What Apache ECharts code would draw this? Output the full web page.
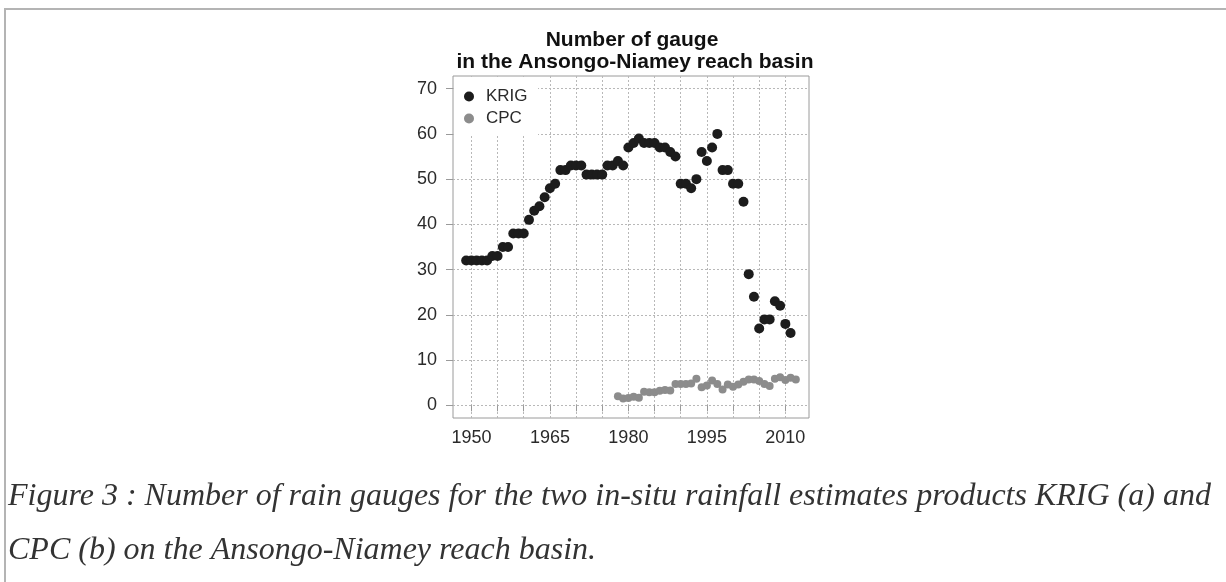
<!DOCTYPE html>
<html>
<head>
<meta charset="utf-8">
<style>
  html, body { margin: 0; padding: 0; background: #fff; }
  #chart { width: 1226px; height: 582px; }
</style>
<script src="https://cdn.jsdelivr.net/npm/echarts@6/dist/echarts.min.js"></script>
</head>
<body>
<div id="chart"></div>
<script>
// Yearly gauge counts, Ansongo-Niamey reach basin
const krigYears = [
  1949, 1950, 1951, 1952, 1953, 1954, 1955, 1956, 1957, 1958, 1959, 1960,
  1961, 1962, 1963, 1964, 1965, 1966, 1967, 1968, 1969, 1970, 1971, 1972,
  1973, 1974, 1975, 1976, 1977, 1978, 1979, 1980, 1981, 1982, 1983, 1984,
  1985, 1986, 1987, 1988, 1989, 1990, 1991, 1992, 1993, 1994, 1995, 1996,
  1997, 1998, 1999, 2000, 2001, 2002, 2003, 2004, 2005, 2006, 2007, 2008,
  2009, 2010, 2011
];
const krigCounts = [
  32, 32, 32, 32, 32, 33, 33, 35, 35, 38, 38, 38,
  41, 43, 44, 46, 48, 49, 52, 52, 53, 53, 53, 51,
  51, 51, 51, 53, 53, 54, 53, 57, 58, 59, 58, 58,
  58, 57, 57, 56, 55, 49, 49, 48, 50, 56, 54, 57,
  60, 52, 52, 49, 49, 45, 29, 24, 17, 19, 19, 23,
  22, 18, 16
];
const cpcYears = [
  1978, 1979, 1980, 1981, 1982, 1983, 1984, 1985, 1986, 1987, 1988, 1989,
  1990, 1991, 1992, 1993, 1994, 1995, 1996, 1997, 1998, 1999, 2000, 2001,
  2002, 2003, 2004, 2005, 2006, 2007, 2008, 2009, 2010, 2011, 2012
];
const cpcCounts = [
  2.0, 1.5, 1.6, 1.9, 1.7, 3.0, 2.9, 2.9, 3.2, 3.4, 3.3, 4.7,
  4.7, 4.7, 4.8, 5.9, 4.0, 4.4, 5.5, 4.7, 3.5, 4.6, 4.1, 4.6,
  5.2, 5.7, 5.7, 5.4, 4.7, 4.3, 5.9, 6.2, 5.6, 6.1, 5.7
];

// Axis ticks and labels
const xGridYears = [1950, 1955, 1960, 1965, 1970, 1975, 1980, 1985, 1990, 1995, 2000, 2005, 2010];
const xLabelYears = [1950, 1965, 1980, 1995, 2010];
const yTicks = [0, 10, 20, 30, 40, 50, 60, 70];

const titleLines = ['Number of gauge', 'in the Ansongo-Niamey reach basin'];
const captionLines = [
  'Figure 3 : Number of rain gauges for the two in-situ rainfall estimates products KRIG (a) and',
  'CPC (b) on the Ansongo-Niamey reach basin.'
];

const pair = (xs, ys) => xs.map((x, i) => [x, ys[i]]);

const sans = '"Liberation Sans", Arial, Helvetica, sans-serif';
const serifItalic = 'italic 32px "Liberation Serif", "Times New Roman", serif';
const dotted = { color: '#b8b8b8', width: 1, type: [2, 2] };

const chart = echarts.init(document.getElementById('chart'), null, { renderer: 'canvas' });

chart.setOption({
  animation: false,
  backgroundColor: '#fff',
  grid: {
    left: 453, top: 76, right: 417, bottom: 164,
    show: true, borderColor: '#9a9a9a', borderWidth: 1,
    backgroundColor: 'transparent'
  },
  xAxis: {
    type: 'value',
    min: 1946.48, max: 2014.52,
    axisLine: { show: false },
    axisTick: { show: true, length: 6, lineStyle: { color: '#9a9a9a' }, customValues: xGridYears },
    axisLabel: {
      customValues: xLabelYears, margin: 11,
      formatter: v => String(v),
      fontFamily: sans, fontSize: 18, color: '#2a2a2a'
    },
    splitLine: { show: true, lineStyle: dotted }
  },
  yAxis: {
    type: 'value',
    min: -2.8, max: 72.8,
    axisLine: { show: false },
    axisTick: { show: true, length: 7, lineStyle: { color: '#9a9a9a' }, customValues: yTicks },
    axisLabel: {
      customValues: yTicks, margin: 16,
      fontFamily: sans, fontSize: 18, color: '#2a2a2a'
    },
    splitLine: { show: true, lineStyle: dotted }
  },
  legend: {
    orient: 'vertical',
    left: 464, top: 88,
    itemWidth: 24, itemHeight: 10, itemGap: 5,
    icon: 'circle',
    padding: 0,
    textStyle: { fontFamily: sans, fontSize: 17, color: '#2a2a2a' },
    data: ['KRIG', 'CPC'],
    z: 5
  },
  graphic: [
    // page frame
    { type: 'line', z: 10, shape: { x1: 4, y1: 9, x2: 1226, y2: 9 }, style: { stroke: '#b4b4b4', lineWidth: 2 } },
    { type: 'line', z: 10, shape: { x1: 5, y1: 8, x2: 5, y2: 582 }, style: { stroke: '#b4b4b4', lineWidth: 2 } },
    // blank area behind the legend
    { type: 'rect', z: 3, shape: { x: 454, y: 77, width: 84, height: 59 }, style: { fill: '#fff' } },
    // chart title
    { type: 'text', z: 10, x: 632, y: 40, style: { text: titleLines[0], font: 'bold 21px ' + sans, fill: '#111', align: 'center', verticalAlign: 'middle' } },
    { type: 'text', z: 10, x: 635, y: 62, style: { text: titleLines[1], font: 'bold 21px ' + sans, fill: '#111', align: 'center', verticalAlign: 'middle' } },
    // figure caption
    { type: 'text', z: 10, x: 8, y: 497, style: { text: captionLines[0], font: serifItalic, fill: '#333', verticalAlign: 'middle' } },
    { type: 'text', z: 10, x: 8, y: 551, style: { text: captionLines[1], font: serifItalic, fill: '#333', verticalAlign: 'middle' } }
  ],
  series: [
    {
      name: 'KRIG', type: 'scatter', z: 6,
      symbol: 'circle', symbolSize: 10,
      itemStyle: { color: '#1c1c1c', opacity: 1 },
      data: pair(krigYears, krigCounts)
    },
    {
      name: 'CPC', type: 'scatter', z: 6,
      symbol: 'circle', symbolSize: 8,
      itemStyle: { color: '#8c8c8c', opacity: 1 },
      data: pair(cpcYears, cpcCounts)
    }
  ]
});
</script>
</body>
</html>
